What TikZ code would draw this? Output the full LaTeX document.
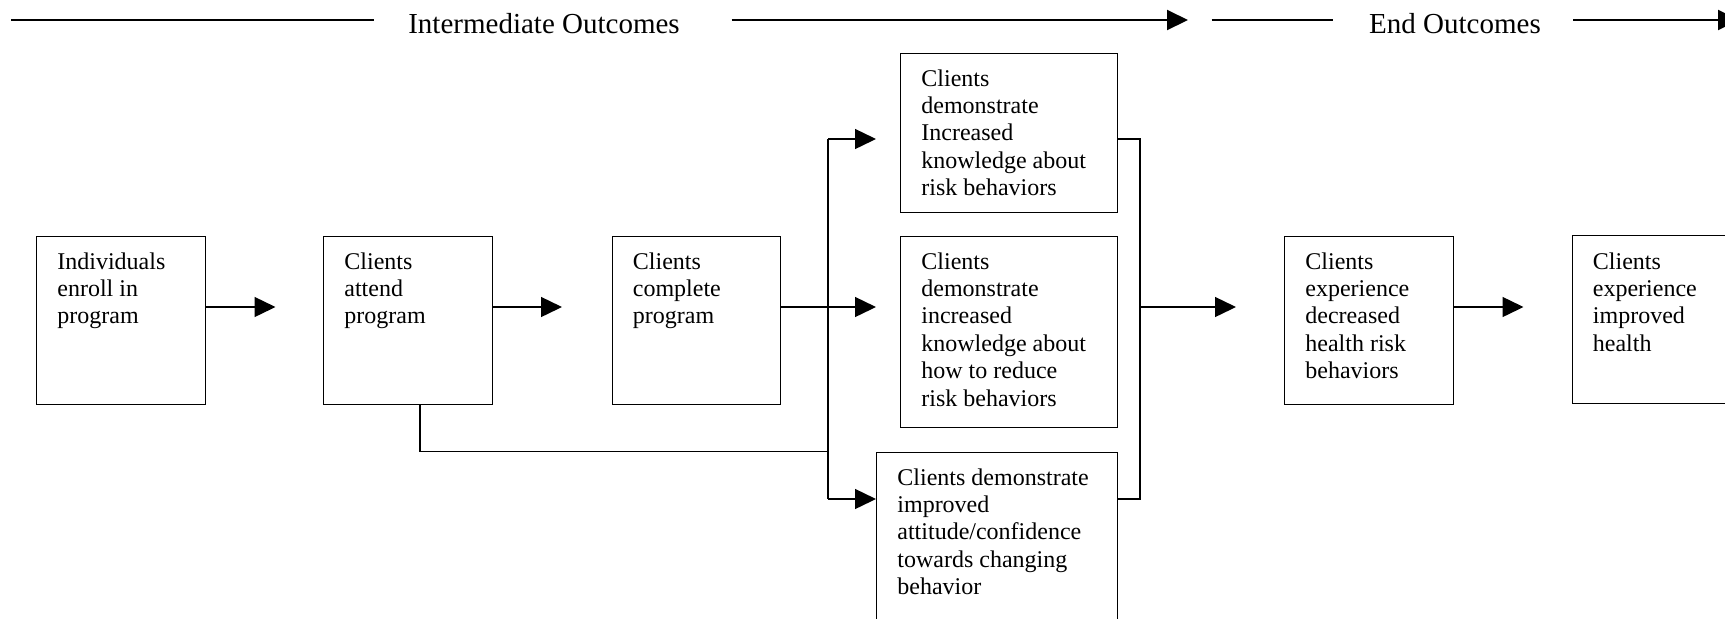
\documentclass[tikz,border=0pt]{standalone}
\usepackage{fontspec}
\setmainfont{Liberation Serif}
\usetikzlibrary{arrows.meta}
\tikzset{
  box/.style={draw, line width=0.7pt, rectangle, inner sep=0pt, anchor=north west},
  txt/.style={anchor=north west, inner sep=0pt, align=left, font=\fontsize{12}{13.7}\selectfont},
  hdr/.style={anchor=base, inner sep=0pt, font=\fontsize{14.5}{16}\selectfont},
  con/.style={line width=0.7pt},
  arr/.style={line width=0.7pt, -{Triangle[length=10.5pt,width=10pt]}},
  harr/.style={line width=1pt, -{Triangle[length=10.5pt,width=10pt]}},
  hline/.style={line width=1pt}
}
\begin{document}
\begin{tikzpicture}[x=0.5pt,y=-0.5pt]
\useasboundingbox (0,0) rectangle (1725,618);
\clip (0,0) rectangle (1725,618);
% header
\node[hdr] (h1) at (544,33.5) {Intermediate Outcomes};
\node[hdr] (h2) at (1455,33.5) {End Outcomes};
\coordinate (l1a) at (11,20);
\coordinate (l1b) at (374,20);
\coordinate (l2a) at (731.5,20);
\coordinate (l2b) at (1188,20);
\coordinate (l3a) at (1211.5,20);
\coordinate (l3b) at (1333,20);
\coordinate (l4a) at (1573,20);
\coordinate (l4b) at (1739,20);
\draw[hline] (l1a) -- (l1b);
\draw[harr] (l2a) -- (l2b);
\draw[hline] (l3a) -- (l3b);
\draw[harr] (l4a) -- (l4b);
% boxes
\node[box, minimum width=84.25pt, minimum height=83.75pt] (b1) at (36,236) {};
\node[box, minimum width=84.25pt, minimum height=83.75pt] (b2) at (323,236) {};
\node[box, minimum width=84.25pt, minimum height=83.75pt] (b3) at (611.5,236) {};
\node[box, minimum width=108.25pt, minimum height=79.5pt] (b4) at (900,53) {};
\node[box, minimum width=108.25pt, minimum height=95.5pt] (b5) at (900,236) {};
\node[box, minimum width=120.25pt, minimum height=100pt] (b6) at (876,452) {};
\node[box, minimum width=84.25pt, minimum height=83.75pt] (b7) at (1284,236) {};
\node[box, minimum width=100pt, minimum height=84pt] (b8) at (1571.5,235) {};
% texts
\node[txt] (t1) at ([shift={(21,16)}]b1.north west) {Individuals\\enroll in\\program};
\node[txt] (t2) at ([shift={(21,16)}]b2.north west) {Clients\\attend\\program};
\node[txt] (t3) at ([shift={(21,16)}]b3.north west) {Clients\\complete\\program};
\node[txt] (t4) at ([shift={(21,16)}]b4.north west) {Clients\\demonstrate\\Increased\\knowledge about\\risk behaviors};
\node[txt] (t5) at ([shift={(21,16)}]b5.north west) {Clients\\demonstrate\\increased\\knowledge about\\how to reduce\\risk behaviors};
\node[txt] (t6) at ([shift={(21,16)}]b6.north west) {Clients demonstrate\\improved\\attitude/confidence\\towards changing\\behavior};
\node[txt] (t7) at ([shift={(21,16)}]b7.north west) {Clients\\experience\\decreased\\health risk\\behaviors};
\node[txt] (t8) at ([shift={(21,17)}]b8.north west) {Clients\\experience\\improved\\health};
% connectors
\draw[arr] ([shift={(0,71)}]b1.north east) -- ([shift={(-47.5,71)}]b2.north west);
\draw[arr] ([shift={(0,71)}]b2.north east) -- ([shift={(-49.5,71)}]b3.north west);
\coordinate (m3) at ([shift={(0,71)}]b3.north east);
\draw[arr] (m3) -- (m3 -| b6.west);
\coordinate (vtop) at (828,139);
\coordinate (vbot) at (828,499);
\coordinate (vmid) at (828,451.5);
\draw[con] (vtop) -- (vbot);
\draw[arr] (vtop) -- (vtop -| b6.west);
\draw[arr] (vbot) -- (vbot -| b6.west);
\draw[con] ([shift={(97,0)}]b2.south west) |- (vmid);
\coordinate (rtop) at (1140,139);
\coordinate (rbot) at (1140,499);
\coordinate (rmid) at (1140,307);
\draw[con] (b4.east |- rtop) -- (rtop) -- (rbot) -- (b6.east |- rbot);
\draw[arr] (rmid) -- ([shift={(-48,71)}]b7.north west);
\draw[arr] ([shift={(0,71)}]b7.north east) -- ([shift={(-48,72)}]b8.north west);
\end{tikzpicture}
\end{document}
